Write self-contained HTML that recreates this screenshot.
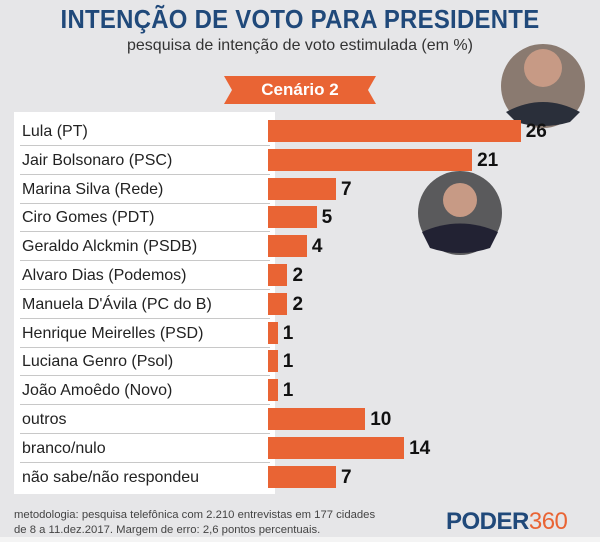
<!DOCTYPE html>
<html><head><meta charset="utf-8"><style>
body{margin:0;width:600px;height:542px;background:#e6e6e8;font-family:"Liberation Sans",sans-serif;position:relative;overflow:hidden}
.a{position:absolute}
.lbl{position:absolute;left:22px;font-size:16px;color:#222;line-height:28px}
.sep{position:absolute;left:20px;width:250px;height:1px;background:#c8c8c8}
.bar{position:absolute;left:268px;height:22px;background:#e96434}
.val{position:absolute;font-size:19px;font-weight:bold;color:#111;line-height:22px}
</style></head><body>
<div class="a" style="left:0;top:4px;width:600px;text-align:center;font-size:26px;font-weight:bold;color:#20497a;letter-spacing:0.3px;transform:scaleX(0.92)">INTENÇÃO DE VOTO PARA PRESIDENTE</div>
<div class="a" style="left:100px;top:37px;width:400px;text-align:center;font-size:16px;color:#333">pesquisa de intenção de voto estimulada (em %)</div>
<svg class="a" style="left:0;top:0" width="600" height="542">
<polygon points="224,76 376,76 368,90 376,104 224,104 232,90" fill="#e96434"/>
<circle cx="543" cy="86" r="42" fill="#8a7a70"/>
<circle cx="543" cy="68" r="19" fill="#c79a85"/>
<path d="M506,112 Q543,92 580,112 L570,122 Q543,130 516,122Z" fill="#2a2f3a"/>
<circle cx="460" cy="213" r="42" fill="#5a5a5c"/>
<circle cx="460" cy="200" r="17" fill="#c79a85"/>
<path d="M422,232 Q460,215 498,232 L490,248 Q460,258 430,248Z" fill="#223"/>
</svg>
<div class="a" style="left:224px;top:80px;width:152px;text-align:center;font-size:17px;font-weight:bold;color:#fff">Cenário 2</div>
<div class="a" style="left:14px;top:112px;width:261px;height:382px;background:#fff"></div>
<div id="rows"></div>
<script>
var d=[["Lula (PT)",26],["Jair Bolsonaro (PSC)",21],["Marina Silva (Rede)",7],["Ciro Gomes (PDT)",5],["Geraldo Alckmin (PSDB)",4],["Alvaro Dias (Podemos)",2],["Manuela D'Ávila (PC do B)",2],["Henrique Meirelles (PSD)",1],["Luciana Genro (Psol)",1],["João Amoêdo (Novo)",1],["outros",10],["branco/nulo",14],["não sabe/não respondeu",7]];
var h="";
d.forEach(function(r,i){var c=131+i*28.8;var w=r[1]*9.72;
h+='<div class="lbl" style="top:'+(c-13)+'px">'+r[0]+'</div>';
if(i<12)h+='<div class="sep" style="top:'+(c+14)+'px"></div>';
h+='<div class="bar" style="top:'+(c-11)+'px;width:'+w+'px"></div>';
h+='<div class="val" style="top:'+(c-10)+'px;left:'+(268+w+5)+'px">'+r[1]+'</div>';});
document.getElementById("rows").innerHTML=h;
</script>
<div class="a" style="left:14px;top:508px;font-size:11.3px;color:#444;line-height:15px">metodologia: pesquisa telefônica com 2.210 entrevistas em 177 cidades<br>de 8 a 11.dez.2017. Margem de erro: 2,6 pontos percentuais.</div>
<div class="a" style="left:446px;top:508px;font-size:24px;font-weight:bold;color:#20497a;letter-spacing:-0.5px">PODER<span style="color:#e96434;font-weight:normal">360</span></div>
<div class="a" style="left:0;top:537px;width:600px;height:5px;background:#f4f4f4"></div>
</body></html>
